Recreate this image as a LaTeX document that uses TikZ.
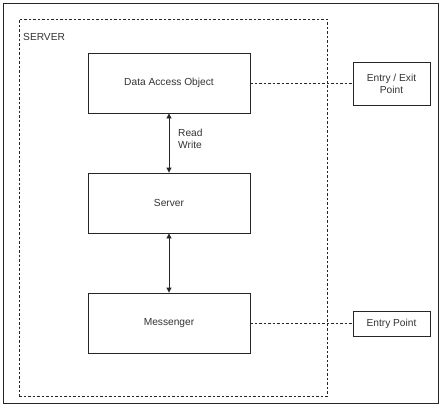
\documentclass[tikz,border=0pt]{standalone}
\usepackage{fontspec}
\setmainfont{Liberation Sans}
\usetikzlibrary{arrows.meta}
\begin{document}
\begin{tikzpicture}[x=1pt,y=-1pt,
  txt/.style={text=black!80,font=\fontsize{10.2}{12}\selectfont},
  box/.style={draw=black!85,line width=0.8pt,fill=white,minimum width=162pt,minimum height=60pt,inner sep=0pt,txt},
  sbox/.style={draw=black!85,line width=0.8pt,fill=white,inner sep=0pt,align=center,txt},
  dline/.style={draw=black!85,line width=0.6pt,dash pattern=on 2.5pt off 2pt},
  arr/.style={draw=black!85,line width=0.8pt,{Triangle[width=5pt,length=5pt]}-{Triangle[width=5pt,length=5pt]}}]
\useasboundingbox (0,0) rectangle (442,407);
\fill[white] (0,0) rectangle (442,407);
\node[draw=black!85,line width=0.9pt,minimum width=435pt,minimum height=400pt,inner sep=0pt] (outer) at (220.5,203.5) {};
\node[dline,minimum width=308pt,minimum height=377pt,inner sep=0pt] (srv) at (173,207.5) {};
\node[txt,anchor=west,inner sep=0pt] (srvlbl) at (23,37) {SERVER};
\node[box] (dao) at (169,83) {Data Access Object};
\node[box] (server) at (169,203) {Server};
\node[box] (msg) at (169,323) {Messenger};
\node[sbox,minimum width=77pt,minimum height=43pt] (eep) at (391.5,83.5) {Entry / Exit\\Point};
\node[sbox,minimum width=77pt,minimum height=25pt] (ep) at (391.5,323.5) {Entry Point};
\draw[arr] (dao.south) -- (server.north);
\draw[arr] (server.south) -- (msg.north);
\node[txt,align=left,anchor=west,inner sep=0pt] (rw) at (178,139) {Read\\Write};
\draw[dline] (dao.east) -- (eep.west |- dao.east);
\draw[dline] (msg.east) -- (ep.west |- msg.east);
\end{tikzpicture}
\end{document}
